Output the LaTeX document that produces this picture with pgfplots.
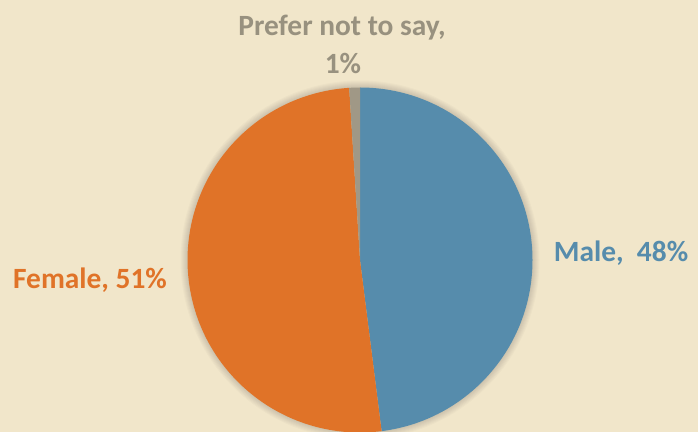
\documentclass[border=0pt]{standalone}
\usepackage{pgfplots}
\pgfplotsset{compat=1.18}
\usepackage{fontspec}
\setmainfont{Carlito}

\definecolor{bg}{HTML}{F1E6CA}
\definecolor{male}{HTML}{568CAC}
\definecolor{female}{HTML}{E07328}
\definecolor{other}{HTML}{A09886}
\definecolor{othertext}{HTML}{98917F}

\tikzset{lbl/.style={font=\fontsize{29.5}{34}\selectfont\bfseries}}

% shares in percent
\def\pMale{48}
\def\pFemale{51}
\def\pOther{1}

\begin{document}
\begin{tikzpicture}
\pgfmathsetmacro{\aA}{90}
\pgfmathsetmacro{\aB}{90-3.6*\pMale}
\pgfmathsetmacro{\aC}{\aB-3.6*\pFemale}
\pgfmathsetmacro{\aD}{\aC-3.6*\pOther}
\begin{axis}[
    scale only axis,
    width=698bp, height=432bp,
    xmin=0, xmax=698, ymin=0, ymax=432,
    axis lines=none, ticks=none,
    clip mode=global,
]
\fill[bg] (axis cs:0,0) rectangle (axis cs:698,432);
% soft shadow
\pgfplotsinvokeforeach{1,...,7}{
  \fill[black, opacity=0.02] (axis cs:360,172) circle[radius=172.5bp+#1bp];
}
\fill[male] (axis cs:360,172) -- ++(\aA:172.5bp) arc[start angle=\aA, end angle=\aB, radius=172.5bp] -- cycle;
\fill[female] (axis cs:360,172) -- ++(\aB:172.5bp) arc[start angle=\aB, end angle=\aC, radius=172.5bp] -- cycle;
\fill[other] (axis cs:360,172) -- ++(\aC:172.5bp) arc[start angle=\aC, end angle=\aD, radius=172.5bp] -- cycle;

\node[text=female, lbl] at (axis cs:90,152) {Female, 51\%};
\node[text=male, lbl] at (axis cs:621,179) {Male,\ \ 48\%};
\node[text=othertext, lbl] at (axis cs:342,404) {Prefer not to say,};
\node[text=othertext, lbl] at (axis cs:343,369) {1\%};
\end{axis}
\end{tikzpicture}
\end{document}
